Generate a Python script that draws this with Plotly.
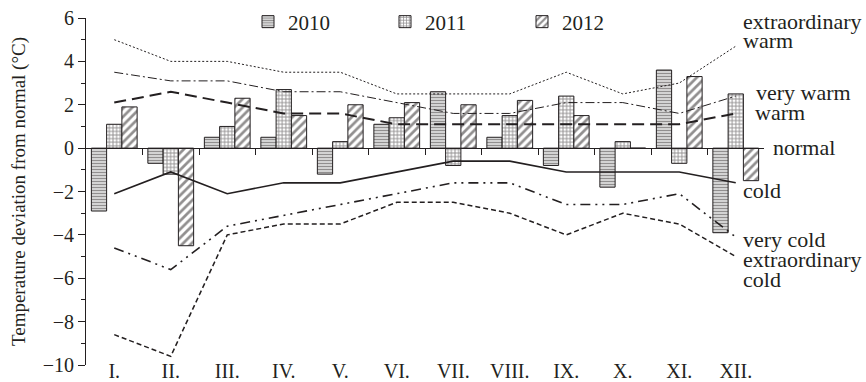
import plotly.graph_objects as go

months = ["I.", "II.", "III.", "IV.", "V.", "VI.", "VII.", "VIII.", "IX.", "X.", "XI.", "XII."]
x_pos = list(range(len(months)))

dev_2010 = [-2.9, -0.7, 0.5, 0.5, -1.2, 1.1, 2.6, 0.5, -0.8, -1.8, 3.6, -3.9]
dev_2011 = [1.1, -1.2, 1.0, 2.7, 0.3, 1.4, -0.8, 1.5, 2.4, 0.3, -0.7, 2.5]
dev_2012 = [1.9, -4.5, 2.3, 1.5, 2.0, 2.1, 2.0, 2.2, 1.5, 0.0, 3.3, -1.5]

extra_warm = [5.0, 4.0, 4.0, 3.5, 3.5, 2.5, 2.5, 2.5, 3.5, 2.5, 3.0, 4.7]
very_warm = [3.5, 3.1, 3.1, 2.6, 2.6, 2.1, 1.6, 1.6, 2.1, 2.1, 1.6, 2.4]
warm = [2.1, 2.6, 2.1, 1.6, 1.6, 1.1, 1.1, 1.1, 1.1, 1.1, 1.1, 1.6]
cold = [-2.1, -1.1, -2.1, -1.6, -1.6, -1.1, -0.6, -0.6, -1.1, -1.1, -1.1, -1.6]
very_cold = [-4.6, -5.6, -3.6, -3.1, -2.6, -2.1, -1.6, -1.6, -2.6, -2.6, -2.1, -4.1]
extra_cold = [-8.6, -9.6, -4.0, -3.5, -3.5, -2.5, -2.5, -3.0, -4.0, -3.0, -3.5, -5.0]

category_labels = ["extraordinary", "warm", "very warm", "warm", "normal", "cold",
                   "very cold", "extraordinary", "cold"]
label_y = [5.82, 4.98, 2.55, 1.64, 0.05, -1.94, -4.19, -5.15, -6.05]
label_x = [741, 741, 754, 753, 771, 741, 741, 741, 741]

FONT = "Liberation Serif"
INK = "#231f20"
FS = 20

fig = go.Figure()

bar_specs = [("2010", dev_2010, "-", 3.0, 0.6),
             ("2011", dev_2011, "+", 3.6, 0.45),
             ("2012", dev_2012, "/", 6, 0.45)]
for name, vals, shape, size, sol in bar_specs:
    fig.add_trace(go.Bar(
        x=x_pos, y=vals, name=name,
        marker=dict(color="white", line=dict(color=INK, width=1),
                    pattern=dict(shape=shape, fgcolor=INK, bgcolor="white",
                                 size=size, solidity=sol, fillmode="overlay")),
    ))

line_specs = [
    (extra_warm, dict(color=INK, width=1, dash="2px,2px")),
    (very_warm, dict(color=INK, width=1, dash="9px,3px,2px,3px")),
    (warm, dict(color=INK, width=2, dash="12px,6px")),
    (cold, dict(color=INK, width=1.6)),
    (very_cold, dict(color=INK, width=1.6, dash="10px,5px,2px,5px,2px,5px")),
    (extra_cold, dict(color=INK, width=1.5, dash="5px,3px")),
]
for vals, ln in line_specs:
    fig.add_trace(go.Scatter(x=x_pos, y=vals, mode="lines", line=ln,
                             showlegend=False, hoverinfo="skip"))

# invisible trace to activate the zero-level axis with boundary ticks
fig.add_trace(go.Scatter(x=[0], y=[0], xaxis="x2", mode="markers",
                         marker=dict(opacity=0), showlegend=False, hoverinfo="skip"))

L, R, T, B = 86, 102, 18, 17
W, H = 866, 382
pw = W - L - R
ph = H - T - B

for txt, yy, xx in zip(category_labels, label_y, label_x):
    fig.add_annotation(text=txt, xref="paper", x=(xx - L) / pw, yref="y", y=yy,
                       xanchor="left", yanchor="middle", showarrow=False,
                       font=dict(family=FONT, size=22, color=INK))

fig.update_layout(
    width=W, height=H,
    margin=dict(l=L, r=R, t=T, b=B, autoexpand=False),
    paper_bgcolor="white", plot_bgcolor="white",
    font=dict(family=FONT, size=FS, color=INK),
    barmode="group", bargap=0.19, bargroupgap=0,
    showlegend=True,
    legend=dict(orientation="h", x=(248 - L) / pw, xanchor="left",
                y=(H - B - 22) / ph, yanchor="middle", entrywidth=92,
                bgcolor="rgba(0,0,0,0)", font=dict(family=FONT, size=21, color=INK)),
    xaxis=dict(range=[-0.5, 11.5], tickvals=x_pos, ticktext=months,
               showline=False, showgrid=False, zeroline=False, ticks="",
               ticklabelstandoff=-8,
               tickfont=dict(family=FONT, size=FS, color=INK), fixedrange=True,
               automargin=False),
    xaxis2=dict(overlaying="x", anchor="free", position=10 / 16,
                range=[-0.5, 11.5], tickvals=[i + 0.5 for i in range(11)],
                showticklabels=False, ticks="outside", ticklen=6, tickcolor=INK,
                showline=True, linecolor=INK, linewidth=1, showgrid=False,
                zeroline=False),
    yaxis=dict(range=[-10, 6], dtick=2, tick0=0, ticks="outside", ticklen=7,
               tickcolor=INK, showline=True, linecolor=INK, linewidth=1,
               showgrid=False, zeroline=False, automargin=False,
               minor=dict(dtick=1, ticks="outside", ticklen=4, tickcolor=INK),
               title=dict(text="Temperature deviation from normal (°C)",
                          font=dict(family=FONT, size=19, color=INK), standoff=12),
               tickfont=dict(family=FONT, size=FS, color=INK)),
)

fig.write_html("out.html", config={"displayModeBar": False},
               post_script="document.body.style.margin='0';")
